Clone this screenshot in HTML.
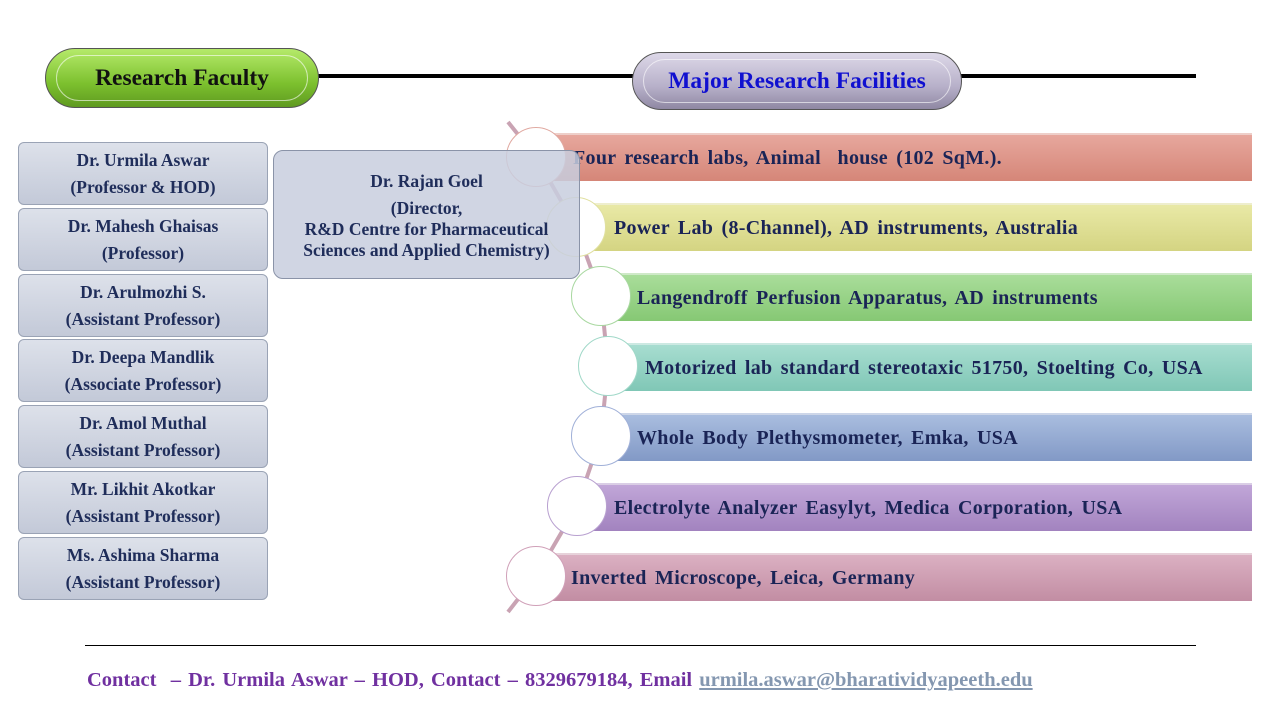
<!DOCTYPE html>
<html><head><meta charset="utf-8"><style>
*{margin:0;padding:0;box-sizing:border-box}
body{width:1280px;height:720px;background:#fff;position:relative;overflow:hidden;font-family:"Liberation Serif",serif;font-weight:bold}
.a{position:absolute}
.pill{position:absolute;border-radius:30px;border:1px solid #555;display:flex;align-items:center;justify-content:center;font-size:23.5px}
.pill .in{position:absolute;left:10px;right:10px;top:6px;bottom:6px;border-radius:24px;border:1px solid rgba(255,255,255,.6)}
.lb{position:absolute;left:18px;width:250px;height:63px;border:1px solid #9aa3b5;border-radius:6px;background:linear-gradient(#dde1ea,#c3c9d8);color:#1f2d5a;font-size:17.5px;text-align:center;line-height:27px;padding-top:4px;white-space:nowrap}
.bar{position:absolute;right:28px;height:48px;font-size:20px;color:#1a2456;display:flex;align-items:center;word-spacing:3px;letter-spacing:0.3px;border-top:2px solid rgba(255,255,255,.6);white-space:nowrap}
.c{position:absolute;width:60px;height:60px;border-radius:50%;background:#fff;border:1px solid}
</style></head><body>
<div class="a" style="left:318px;top:74px;width:316px;height:4px;background:#000"></div>
<div class="a" style="left:960px;top:74px;width:236px;height:4px;background:#000"></div>
<div class="pill" style="left:45px;top:48px;width:274px;height:60px;background:linear-gradient(#b5ea6a,#7cc02e 60%,#5f9a20);color:#111"><div class="in"></div>Research Faculty</div>
<div class="pill" style="left:632px;top:52px;width:330px;height:58px;background:linear-gradient(#ddd8e8,#b7b0c9 60%,#8f88a3);color:#1010d0"><div class="in"></div>Major Research Facilities</div>

<svg class="a" style="left:0;top:0" width="1280" height="720"><polyline points="508,122 536,157 576,227 601,296 608,366 601,436 577,506 536,576 508,612" fill="none" stroke="#c9a3b3" stroke-width="4"/></svg>

<div class="bar" style="left:536px;top:133px;background:linear-gradient(#e7a79d,#d58678);padding-left:37px">Four research labs, Animal&nbsp; house (102 SqM.).</div>
<div class="bar" style="left:576px;top:203px;background:linear-gradient(#e9e9a6,#d4d482);padding-left:38px">Power Lab (8-Channel), AD instruments, Australia</div>
<div class="bar" style="left:601px;top:273px;background:linear-gradient(#a9dd9a,#86c874);padding-left:36px">Langendroff Perfusion Apparatus, AD instruments</div>
<div class="bar" style="left:608px;top:343px;background:linear-gradient(#a7ddd0,#80c7b6);padding-left:37px">Motorized lab standard stereotaxic 51750, Stoelting Co, USA</div>
<div class="bar" style="left:601px;top:413px;background:linear-gradient(#a9bddf,#8299c6);padding-left:36px">Whole Body Plethysmometer, Emka, USA</div>
<div class="bar" style="left:577px;top:483px;background:linear-gradient(#c1a6d8,#a283bf);padding-left:37px">Electrolyte Analyzer Easylyt, Medica Corporation, USA</div>
<div class="bar" style="left:536px;top:553px;background:linear-gradient(#dbb0c2,#c28da3);padding-left:35px">Inverted Microscope, Leica, Germany</div>

<div class="c" style="left:506px;top:127px;border-color:#e0a8a0"></div>
<div class="c" style="left:546px;top:197px;border-color:#e0e0a0"></div>
<div class="c" style="left:571px;top:266px;border-color:#a8d8a0"></div>
<div class="c" style="left:578px;top:336px;border-color:#a0d8c8"></div>
<div class="c" style="left:571px;top:406px;border-color:#a0b0d8"></div>
<div class="c" style="left:547px;top:476px;border-color:#b8a0d0"></div>
<div class="c" style="left:506px;top:546px;border-color:#d0a0b8"></div>

<div class="lb" style="top:142px">Dr. Urmila Aswar<br>(Professor &amp; HOD)</div>
<div class="lb" style="top:208px">Dr. Mahesh Ghaisas<br>(Professor)</div>
<div class="lb" style="top:274px">Dr. Arulmozhi S.<br>(Assistant Professor)</div>
<div class="lb" style="top:339px">Dr. Deepa Mandlik<br>(Associate Professor)</div>
<div class="lb" style="top:405px">Dr. Amol Muthal<br>(Assistant Professor)</div>
<div class="lb" style="top:471px">Mr. Likhit Akotkar<br>(Assistant Professor)</div>
<div class="lb" style="top:537px">Ms. Ashima Sharma<br>(Assistant Professor)</div>

<div class="a" style="left:273px;top:150px;width:307px;height:129px;border:1px solid #8a93a8;border-radius:10px;background:rgba(200,206,222,.85);color:#1f2d5a;font-size:17.5px;text-align:center;line-height:21px;padding-top:20px;white-space:nowrap">Dr. Rajan Goel<br><span style="display:block;margin-top:6px">(Director,</span>R&amp;D Centre for Pharmaceutical<br>Sciences and Applied Chemistry)</div>

<div class="a" style="left:85px;top:645px;width:1111px;height:1px;background:#000"></div>
<div class="a" style="left:87px;top:669px;font-size:20.5px;color:#7030a0;white-space:nowrap;word-spacing:2px">Contact &nbsp;– Dr. Urmila Aswar – HOD, Contact – 8329679184, Email <span style="color:#8497b0;text-decoration:underline">urmila.aswar@bharatividyapeeth.edu</span></div>
</body></html>
